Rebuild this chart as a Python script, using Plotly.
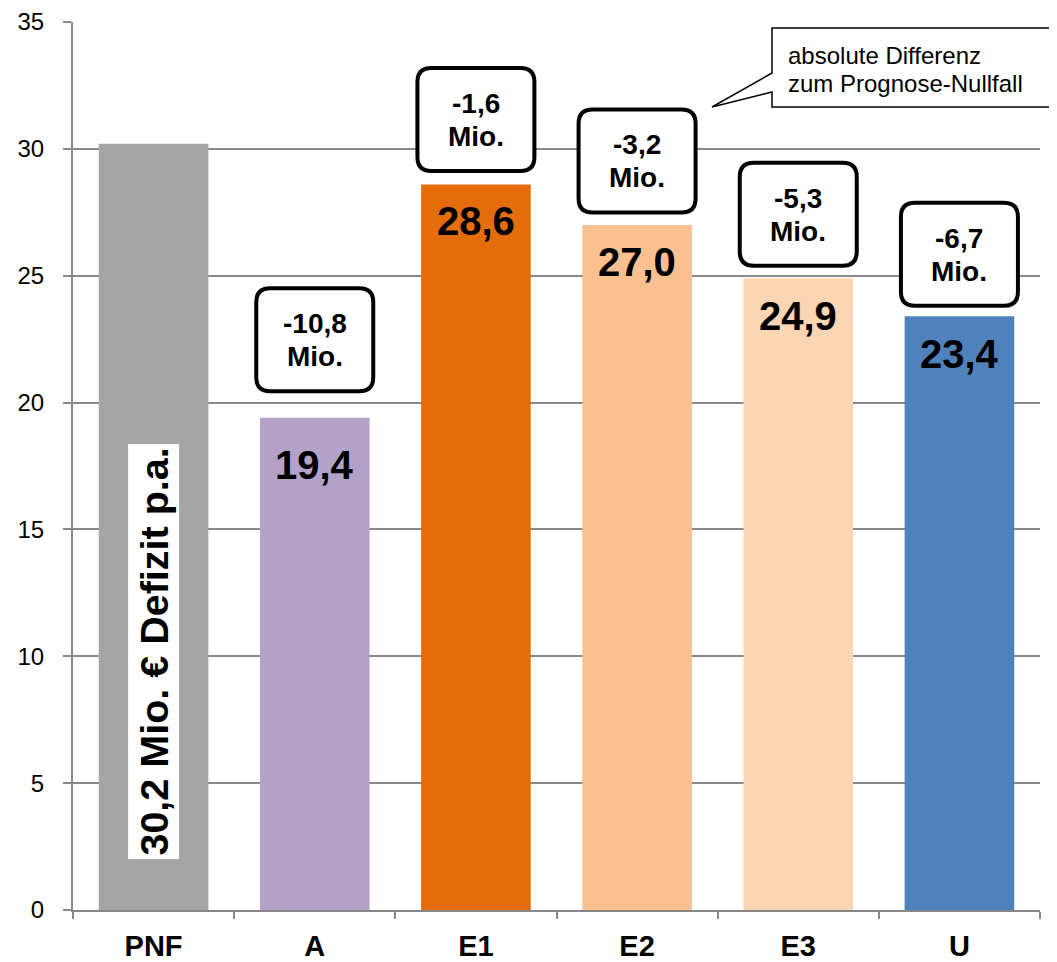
import plotly.graph_objects as go

# ---- data ----
categories = ["PNF", "A", "E1", "E2", "E3", "U"]
values = [30.2, 19.4, 28.6, 27.0, 24.9, 23.4]
value_labels = ["30,2", "19,4", "28,6", "27,0", "24,9", "23,4"]
diff_labels = [None, "-10,8", "-1,6", "-3,2", "-5,3", "-6,7"]
diff_unit = "Mio."
pnf_label = "30,2 Mio. € Defizit p.a."
callout_lines = ["absolute Differenz", "zum Prognose-Nullfall"]
y_tickvals = [0, 5, 10, 15, 20, 25, 30, 35]

# ---- styling ----
bar_colors = ["#A5A5A5", "#B3A2C7", "#E46C0A", "#FAC090", "#FCD5B5", "#4F81BD"]
box_center_px = [None, 78, 65, 64, 64, 62]   # box centre above bar top (px)
label_drop_px = [None, 47, 37, 37, 38, 38]   # value label centre below bar top (px)
FONT = "Liberation Sans, Arial, sans-serif"
GRAY = "#888888"

OFF = 8  # page body margin
W, H = 1049, 954
# plot area in window pixels: x 73..1040, y 22..910
ML = 73 - OFF
MT = 22 - OFF
MR = W - (1040 - OFF)
MB = H - (910 - OFF)
PW, PH = W - ML - MR, H - MT - MB


def px2paper(x, y):
    """window pixel -> paper coordinates"""
    fx, fy = x - OFF, y - OFF
    return (fx - ML) / PW, (H - MB - fy) / PH


fig = go.Figure()
fig.add_trace(go.Bar(
    x=categories, y=values,
    marker=dict(color=bar_colors, line=dict(width=0)),
    hoverinfo="skip",
))


def rounded_box(cy, w=117, h=103, r=14):
    x0, x1 = -w / 2, w / 2
    y0, y1 = cy - h / 2, cy + h / 2
    return (f"M {x0+r},{y1} L {x1-r},{y1} Q {x1},{y1} {x1},{y1-r} "
            f"L {x1},{y0+r} Q {x1},{y0} {x1-r},{y0} L {x0+r},{y0} "
            f"Q {x0},{y0} {x0},{y0+r} L {x0},{y1-r} Q {x0},{y1} {x0+r},{y1} Z")


shapes = []
annotations = []

for i, cat in enumerate(categories):
    v = values[i]
    if diff_labels[i] is not None:
        cy = box_center_px[i]
        shapes.append(dict(
            type="path", xref="x", yref="y",
            xsizemode="pixel", ysizemode="pixel",
            xanchor=cat, yanchor=v,
            path=rounded_box(cy),
            line=dict(color="black", width=4), fillcolor="white", layer="above",
        ))
        annotations.append(dict(
            x=cat, y=v, xref="x", yref="y", yshift=cy + 16, showarrow=False,
            text=f"<b>{diff_labels[i]}</b>", font=dict(family=FONT, size=28, color="black"),
        ))
        annotations.append(dict(
            x=cat, y=v, xref="x", yref="y", yshift=cy - 17, showarrow=False,
            text=f"<b>{diff_unit}</b>", font=dict(family=FONT, size=28, color="black"),
        ))
        annotations.append(dict(
            x=cat, y=v, xref="x", yref="y", yshift=-label_drop_px[i], showarrow=False,
            text=f"<b>{value_labels[i]}</b>", font=dict(family=FONT, size=40, color="black"),
        ))

# rotated label inside the PNF bar
annotations.append(dict(
    x=categories[0], y=0, xref="x", yref="y", yanchor="bottom", yshift=50,
    showarrow=False, textangle=-90,
    text=f"<b>{pnf_label}</b>", font=dict(family=FONT, size=39.5, color="black"),
    bgcolor="white", borderpad=3,
))

# speech-bubble callout
pts = [(772, 28), (1052, 28), (1052, 107), (772, 107), (772, 92), (712, 107), (772, 73)]
pp = [px2paper(x, y) for x, y in pts]
path = "M " + " L ".join(f"{x:.5f},{y:.5f}" for x, y in pp) + " Z"
shapes.append(dict(type="path", xref="paper", yref="paper", path=path,
                   line=dict(color="black", width=1.5), fillcolor="white", layer="above"))
for line, yc in zip(callout_lines, [55, 83]):
    ax, ay = px2paper(786, yc)
    annotations.append(dict(
        x=ax, y=ay, xref="paper", yref="paper", xanchor="left", yanchor="middle",
        showarrow=False, text=line, font=dict(family=FONT, size=24, color="black"),
    ))

fig.update_layout(
    width=W, height=H,
    margin=dict(l=ML, r=MR, t=MT, b=MB, pad=0, autoexpand=False),
    paper_bgcolor="white", plot_bgcolor="white",
    showlegend=False, bargap=0.32,
    shapes=shapes, annotations=annotations,
    font=dict(family=FONT, color="black"),
)
fig.update_xaxes(
    type="category", tickson="boundaries", ticks="outside", ticklen=7, tickwidth=2,
    tickcolor=GRAY, showline=True, linecolor=GRAY, linewidth=2, showgrid=False,
    tickmode="array", tickvals=categories, automargin=False, ticklabeloverflow="allow",
    ticktext=[f"<b>{c}</b>" for c in categories],
    tickfont=dict(family=FONT, size=29, color="black"), ticklabelstandoff=9,
)
fig.update_yaxes(
    range=[0, 35], tickvals=y_tickvals, ticks="outside", ticklen=8, tickwidth=2,
    tickcolor=GRAY, showline=True, linecolor=GRAY, linewidth=2, automargin=False,
    showgrid=True, gridcolor=GRAY, gridwidth=2, zeroline=False, ticklabeloverflow="allow",
    tickfont=dict(family=FONT, size=24, color="black"), ticklabelstandoff=14,
)

fig.write_html("out.html")
